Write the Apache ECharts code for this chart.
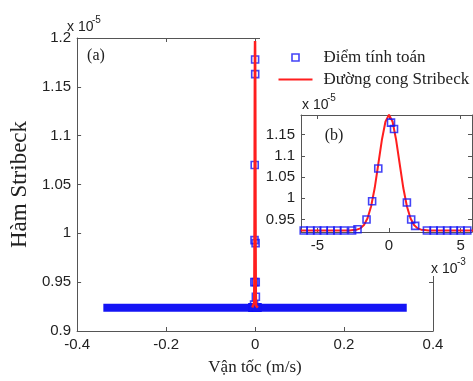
<!DOCTYPE html>
<html>
<head>
<meta charset="utf-8">
<script src="https://cdn.jsdelivr.net/npm/echarts@6/dist/echarts.min.js"></script>
<style>html,body{margin:0;padding:0;background:#fff}#c{width:473px;height:381px}</style>
</head>
<body>
<div id="c"></div>
<script>
// Velocities in units of 1e-3 m/s, Stribeck values in units of 1e-5
const pointX = [-5.96,-5.49,-5.02,-4.56,-4.08,-3.61,-3.15,-2.58,-2.2,-1.57,-1.18,-0.75,0.14,0.35,1.25,1.55,1.83,2.65,3.12,3.59,4.06,4.53,5.0,5.47];
const pointY = [0.924,0.924,0.924,0.924,0.924,0.924,0.924,0.924,0.927,0.95,0.993,1.07,1.178,1.163,0.99,0.95,0.935,0.924,0.924,0.924,0.924,0.924,0.924,0.924];
const curveX = [-6.2,-3,-2.75,-2.5,-2.25,-2,-1.75,-1.5,-1.25,-1,-0.75,-0.5,-0.25,0,0.25,0.5,0.75,1,1.25,1.5,1.75,2,2.25,2.5,2.75,3,6.2];
const curveY = [0.924,0.924,0.924,0.925,0.926,0.929,0.937,0.953,0.981,1.024,1.08,1.137,1.18,1.197,1.18,1.137,1.08,1.024,0.981,0.953,0.937,0.929,0.926,0.925,0.924,0.924,0.924];
// dense band of computed points along the whole velocity sweep (main plot)
const bandX = [-341, 341];
const bandY = [0.9237, 0.9237];
const insetXTicks = [-5,0,5];
const insetYTicks = [0.95,1,1.05,1.1,1.15];

const pts = pointX.map((x,i)=>[x,pointY[i]]);
const crv = curveX.map((x,i)=>[x,curveY[i]]);
const band = bandX.map((x,i)=>[x,bandY[i]]);

const BLUE='#1414f5', RED='#ff1e1e', AX='#555', TXT='#222';
const SANS='Liberation Sans', SERIF='Liberation Serif';
const tick = {show:true, inside:true, length:4, lineStyle:{color:AX}};
const line = {show:true, onZero:false, lineStyle:{color:AX, width:1}};
const lab = {color:TXT, fontFamily:SANS, fontSize:15};
const ts = (t,x,y,f)=>({type:'text', z:40, x:x, y:y, silent:true,
  style:{text:t, font:f, fill:TXT, align:'left', verticalAlign:'middle', textAlign:'left', textVerticalAlign:'middle'}});

const chart = echarts.init(document.getElementById('c'), null, {renderer:'canvas'});
chart.setOption({
  animation:false,
  backgroundColor:'#fff',
  grid:[
    {left:69, top:38, width:364, height:298},
    {left:301, top:115, width:171, height:117}
  ],
  xAxis:[
    {gridIndex:0, type:'value', min:-400, max:400, interval:200, position:'bottom',
     axisLine:line, axisTick:tick, splitLine:{show:false},
     axisLabel:Object.assign({margin:6, formatter:v=>String(+(v/1000).toFixed(2))}, lab),
     name:'Vận tốc (m/s)', nameLocation:'middle', nameGap:28,
     nameTextStyle:{fontFamily:SERIF, fontSize:17, color:TXT}},
    {gridIndex:0, type:'value', min:-400, max:400, interval:200, position:'top',
     axisLine:line, axisTick:tick, splitLine:{show:false}, axisLabel:{show:false}},
    {gridIndex:1, type:'value', min:-6.15, max:5.8, position:'bottom', z:20,
     axisLine:line, axisTick:Object.assign({customValues:insetXTicks}, tick), splitLine:{show:false},
     axisLabel:Object.assign({customValues:insetXTicks, margin:6}, lab)},
    {gridIndex:1, type:'value', min:-6.15, max:5.8, position:'top', z:20,
     axisLine:line, axisTick:Object.assign({customValues:insetXTicks}, tick), splitLine:{show:false},
     axisLabel:{show:false}}
  ],
  yAxis:[
    {gridIndex:0, type:'value', min:0.9, max:1.2, interval:0.05, position:'left',
     axisLine:line, axisTick:tick, splitLine:{show:false},
     axisLabel:Object.assign({margin:6, formatter:v=>String(+v.toFixed(2))}, lab),
     name:'Hàm Stribeck', nameLocation:'middle', nameGap:36, nameRotate:90,
     nameTextStyle:{fontFamily:SERIF, fontSize:23, color:TXT}},
    {gridIndex:0, type:'value', min:0.9, max:1.2, interval:0.05, position:'right',
     axisLine:line, axisTick:tick, splitLine:{show:false}, axisLabel:{show:false}},
    {gridIndex:1, type:'value', min:0.9205, max:1.196, position:'left', z:20,
     axisLine:line, axisTick:Object.assign({customValues:insetYTicks}, tick), splitLine:{show:false},
     axisLabel:Object.assign({customValues:insetYTicks, margin:6, formatter:v=>String(+v.toFixed(2))}, lab)},
    {gridIndex:1, type:'value', min:0.9205, max:1.196, position:'right', z:20,
     axisLine:line, axisTick:Object.assign({customValues:insetYTicks}, tick), splitLine:{show:false},
     axisLabel:{show:false}}
  ],
  legend:{
    z:30, padding:0, left:276, top:48, orient:'vertical', itemWidth:34, itemHeight:10, itemGap:3,
    selectedMode:false,
    textStyle:{fontFamily:SERIF, fontSize:17, color:TXT, lineHeight:19, padding:[0,0,0,6]},
    data:[
      {name:'Điểm tính toán', icon:'path://M0,0M34,10M13.5,1.5L20.5,1.5L20.5,8.5L13.5,8.5Z',
       itemStyle:{color:'none', borderColor:BLUE, borderWidth:1.6}},
      {name:'Đường cong Stribeck', icon:'path://M0,0M34,10M0,5L34,5',
       itemStyle:{color:'none', borderColor:RED, borderWidth:2}}
    ]
  },
  graphic:[
    {type:'rect', z:10, silent:true, shape:{x:260, y:0, width:213, height:276}, style:{fill:'#fff'}},
    {type:'text', z:40, x:96, y:56, silent:true, style:{text:'(a)', font:'16px "Liberation Serif"', fill:TXT, align:'center', verticalAlign:'middle', textAlign:'center', textVerticalAlign:'middle'}},
    {type:'text', z:40, x:334, y:136, silent:true, style:{text:'(b)', font:'16px "Liberation Serif"', fill:TXT, align:'center', verticalAlign:'middle', textAlign:'center', textVerticalAlign:'middle'}},
    ts('x 10', 67, 27, '14px "Liberation Sans"'),
    ts('-5', 92, 20, '10px "Liberation Sans"'),
    ts('x 10', 302, 105, '14px "Liberation Sans"'),
    ts('-5', 327, 98, '10px "Liberation Sans"'),
    ts('x 10', 431, 269, '14px "Liberation Sans"'),
    ts('-3', 457, 262, '10px "Liberation Sans"')
  ],
  series:[
    {name:'band', type:'line', xAxisIndex:0, yAxisIndex:0, data:band, symbol:'none', silent:true,
     lineStyle:{color:BLUE, width:8, cap:'butt'}, z:2},
    {name:'Điểm tính toán', type:'scatter', xAxisIndex:0, yAxisIndex:0, data:pts, symbol:'rect', symbolSize:7,
     itemStyle:{color:'rgba(255,255,255,0)', borderColor:BLUE, borderWidth:1.6}, z:3},
    {name:'Đường cong Stribeck', type:'line', xAxisIndex:0, yAxisIndex:0, data:crv, symbol:'none',
     lineStyle:{color:RED, width:2.5}, itemStyle:{color:RED}, z:4},
    {name:'Đường cong Stribeck', type:'line', xAxisIndex:2, yAxisIndex:2, data:crv, symbol:'none', clip:true,
     lineStyle:{color:RED, width:2}, itemStyle:{color:RED}, z:21},
    {name:'Điểm tính toán', type:'scatter', xAxisIndex:2, yAxisIndex:2, data:pts, symbol:'rect', symbolSize:7,
     itemStyle:{color:'rgba(255,255,255,0)', borderColor:BLUE, borderWidth:1.6}, z:22}
  ]
});
</script>
</body>
</html>
